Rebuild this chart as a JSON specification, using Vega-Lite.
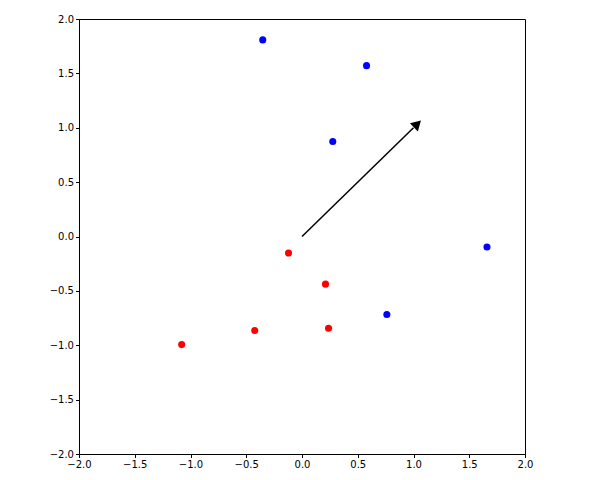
{
  "$schema": "https://vega.github.io/schema/vega-lite/v6.json",
  "width": 446,
  "height": 435,
  "autosize": {"type": "none"},
  "padding": {"left": 79, "top": 19, "right": 74, "bottom": 26},
  "background": "white",
  "config": {
    "view": {"stroke": "black", "strokeWidth": 1},
    "axis": {
      "grid": false,
      "domainColor": "black",
      "tickColor": "black",
      "tickSize": 3.5,
      "labelColor": "black",
      "labelFont": "DejaVu Sans",
      "labelFontSize": 10,
      "labelPadding": 2,
      "labelFlush": false,
      "labelOverlap": false,
      "title": null
    }
  },
  "datasets": {
    "pts": [
      {"x": -0.352, "y": 1.808, "group": "blue"},
      {"x": 0.579, "y": 1.571, "group": "blue"},
      {"x": 0.276, "y": 0.874, "group": "blue"},
      {"x": 1.659, "y": -0.097, "group": "blue"},
      {"x": 0.761, "y": -0.717, "group": "blue"},
      {"x": -0.121, "y": -0.152, "group": "red"},
      {"x": 0.211, "y": -0.438, "group": "red"},
      {"x": -0.424, "y": -0.865, "group": "red"},
      {"x": 0.238, "y": -0.843, "group": "red"},
      {"x": -1.079, "y": -0.994, "group": "red"}
    ],
    "arrow": [{"x": 0, "y": 0, "x2": 1, "y2": 1}],
    "head": [{"x": 1.035, "y": 1.035}]
  },
  "layer": [
    {
      "data": {"name": "pts"},
      "mark": {"type": "circle", "size": 50, "opacity": 1},
      "encoding": {
        "x": {"field": "x", "type": "quantitative", "scale": {"domain": [-2, 2], "nice": false}, "axis": {"values": [-2, -1.5, -1, -0.5, 0, 0.5, 1, 1.5, 2], "format": ".1f"}},
        "y": {"field": "y", "type": "quantitative", "scale": {"domain": [-2, 2], "nice": false}, "axis": {"values": [-2, -1.5, -1, -0.5, 0, 0.5, 1, 1.5, 2], "format": ".1f"}},
        "color": {"field": "group", "type": "nominal", "scale": {"domain": ["blue", "red"], "range": ["#0000ff", "#ff0000"]}, "legend": null}
      }
    },
    {
      "data": {"name": "arrow"},
      "mark": {"type": "rule", "color": "black", "strokeWidth": 1.5},
      "encoding": {
        "x": {"field": "x", "type": "quantitative"},
        "y": {"field": "y", "type": "quantitative"},
        "x2": {"field": "x2"},
        "y2": {"field": "y2"}
      }
    },
    {
      "data": {"name": "head"},
      "mark": {"type": "point", "shape": "triangle-up", "filled": true, "color": "black", "opacity": 1, "size": 130, "angle": 45.7},
      "encoding": {
        "x": {"field": "x", "type": "quantitative"},
        "y": {"field": "y", "type": "quantitative"}
      }
    }
  ]
}
